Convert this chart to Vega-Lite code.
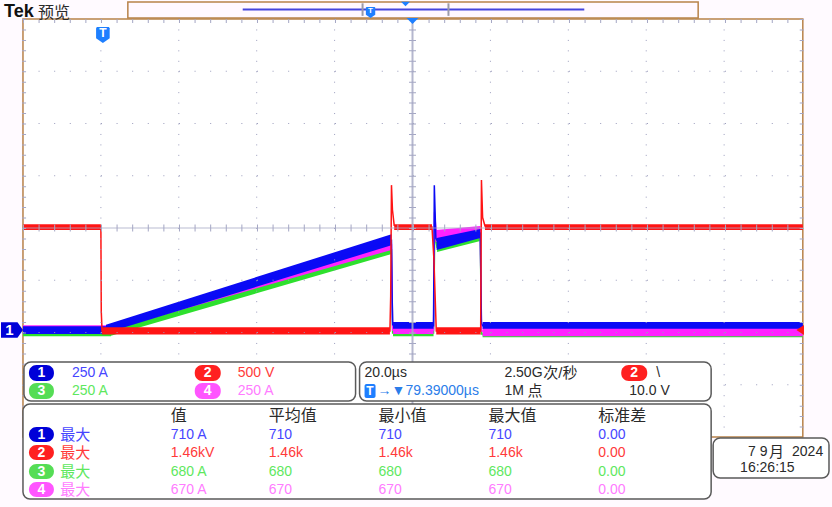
{
"$schema":"https://vega.github.io/schema/vega-lite/v6.json",
"width":832,"height":507,
"autosize":{"type":"fit","contains":"padding"},
"padding":0,
"background":"#FFFAFF",
"config":{"view":{"stroke":null}},
"data":{"values":[{}]},
"datasets":{
"traces":[
{"ch":"1","i":1,"t":-20,"v":-1.95},{"ch":"1","i":2,"t":1.3,"v":-1.95},{"ch":"1","i":3,"t":74.6,"v":-0.24},{"ch":"1","i":4,"t":74.75,"v":-1.2},{"ch":"1","i":5,"t":74.9,"v":-1.85},{"ch":"1","i":6,"t":85.4,"v":-1.87},{"ch":"1","i":7,"t":85.6,"v":0.82},{"ch":"1","i":8,"t":86.0,"v":-0.2},{"ch":"1","i":9,"t":87.0,"v":-0.31},{"ch":"1","i":10,"t":97.4,"v":-0.1},{"ch":"1","i":11,"t":97.7,"v":-1.82},{"ch":"1","i":12,"t":98.0,"v":-1.87},{"ch":"1","i":13,"t":180.2,"v":-1.87},
{"ch":"4","i":1,"t":-20,"v":-1.91},{"ch":"4","i":2,"t":1.6,"v":-1.91},{"ch":"4","i":3,"t":74.6,"v":-0.32},{"ch":"4","i":4,"t":74.9,"v":-1.95},{"ch":"4","i":5,"t":85.4,"v":-1.95},{"ch":"4","i":6,"t":85.65,"v":0.3},{"ch":"4","i":7,"t":86.1,"v":-0.1},{"ch":"4","i":8,"t":88,"v":-0.16},{"ch":"4","i":9,"t":97.4,"v":-0.03},{"ch":"4","i":10,"t":97.7,"v":-1.97},{"ch":"4","i":11,"t":180.2,"v":-1.99},
{"ch":"3","i":1,"t":-20,"v":-2.02},{"ch":"3","i":2,"t":2.6,"v":-2.02},{"ch":"3","i":3,"t":74.6,"v":-0.42},{"ch":"3","i":4,"t":74.9,"v":-2.01},{"ch":"3","i":5,"t":85.4,"v":-2.01},{"ch":"3","i":6,"t":85.7,"v":-0.1},{"ch":"3","i":7,"t":86.3,"v":-0.37},{"ch":"3","i":8,"t":97.4,"v":-0.18},{"ch":"3","i":9,"t":97.7,"v":-2.03},{"ch":"3","i":10,"t":180.2,"v":-2.03},
{"ch":"2","i":1,"t":-20,"v":0.02},{"ch":"2","i":2,"t":0,"v":0.02},{"ch":"2","i":3,"t":0.1,"v":-1.6},{"ch":"2","i":4,"t":0.3,"v":-1.97},{"ch":"2","i":5,"t":74.2,"v":-1.97},{"ch":"2","i":6,"t":74.4,"v":-1.3},{"ch":"2","i":7,"t":74.6,"v":0.82},{"ch":"2","i":8,"t":74.85,"v":0.35},{"ch":"2","i":9,"t":75.3,"v":0.05},{"ch":"2","i":10,"t":85.0,"v":0.02},{"ch":"2","i":11,"t":85.5,"v":-0.6},{"ch":"2","i":12,"t":86.1,"v":-1.97},{"ch":"2","i":13,"t":97.5,"v":-1.97},{"ch":"2","i":14,"t":97.7,"v":0.92},{"ch":"2","i":15,"t":98.0,"v":0.2},{"ch":"2","i":16,"t":98.6,"v":0.04},{"ch":"2","i":17,"t":180.2,"v":0.02}
],
"bands":[
{"ch":"1","seg":"a","t":-20,"lo":-2.03,"hi":-1.88},{"ch":"1","seg":"a","t":1.3,"lo":-2.03,"hi":-1.88},
{"ch":"1","seg":"b","t":1.3,"lo":-2.01,"hi":-1.85},{"ch":"1","seg":"b","t":74.6,"lo":-0.33,"hi":-0.12},
{"ch":"1","seg":"c","t":75.0,"lo":-1.93,"hi":-1.8},{"ch":"1","seg":"c","t":85.4,"lo":-1.93,"hi":-1.8},
{"ch":"1","seg":"d","t":86.2,"lo":-0.42,"hi":-0.19},{"ch":"1","seg":"d","t":97.4,"lo":-0.19,"hi":-0.02},
{"ch":"1","seg":"e","t":98.0,"lo":-1.93,"hi":-1.8},{"ch":"1","seg":"e","t":180.2,"lo":-1.93,"hi":-1.8},
{"ch":"4","seg":"a","t":-20,"lo":-1.96,"hi":-1.86},{"ch":"4","seg":"a","t":1.6,"lo":-1.96,"hi":-1.86},
{"ch":"4","seg":"b","t":1.6,"lo":-1.97,"hi":-1.87},{"ch":"4","seg":"b","t":74.6,"lo":-0.42,"hi":-0.22},
{"ch":"4","seg":"c","t":75.0,"lo":-2.03,"hi":-1.88},{"ch":"4","seg":"c","t":85.4,"lo":-2.03,"hi":-1.88},
{"ch":"4","seg":"d","t":85.9,"lo":-0.27,"hi":-0.04},{"ch":"4","seg":"d","t":97.4,"lo":-0.11,"hi":0.04},
{"ch":"4","seg":"e","t":98.0,"lo":-2.07,"hi":-1.91},{"ch":"4","seg":"e","t":180.2,"lo":-2.07,"hi":-1.91},
{"ch":"3","seg":"a","t":-20,"lo":-2.07,"hi":-1.97},{"ch":"3","seg":"a","t":2.6,"lo":-2.07,"hi":-1.97},
{"ch":"3","seg":"b","t":2.6,"lo":-2.06,"hi":-1.96},{"ch":"3","seg":"b","t":74.6,"lo":-0.5,"hi":-0.34},
{"ch":"3","seg":"c","t":75.0,"lo":-2.07,"hi":-1.95},{"ch":"3","seg":"c","t":85.4,"lo":-2.07,"hi":-1.95},
{"ch":"3","seg":"d","t":86.3,"lo":-0.46,"hi":-0.29},{"ch":"3","seg":"d","t":97.4,"lo":-0.25,"hi":-0.11},
{"ch":"3","seg":"e","t":98.0,"lo":-2.09,"hi":-1.97},{"ch":"3","seg":"e","t":180.2,"lo":-2.09,"hi":-1.97},
{"ch":"2","seg":"a","t":-20,"lo":-0.04,"hi":0.07},{"ch":"2","seg":"a","t":0,"lo":-0.04,"hi":0.07},
{"ch":"2","seg":"b","t":0.3,"lo":-2.04,"hi":-1.9},{"ch":"2","seg":"b","t":74.2,"lo":-2.04,"hi":-1.9},
{"ch":"2","seg":"c","t":75.3,"lo":-0.04,"hi":0.07},{"ch":"2","seg":"c","t":85.0,"lo":-0.04,"hi":0.07},
{"ch":"2","seg":"d","t":86.1,"lo":-2.04,"hi":-1.9},{"ch":"2","seg":"d","t":97.5,"lo":-2.04,"hi":-1.9},
{"ch":"2","seg":"e","t":98.6,"lo":-0.04,"hi":0.07},{"ch":"2","seg":"e","t":180.2,"lo":-0.04,"hi":0.07}
],
"panels":[
{"box":"channels","t":-19.744,"t2":65.385,"v":-2.5646,"v2":-3.311},
{"box":"timebase","t":66.41,"t2":156.667,"v":-2.5646,"v2":-3.311},
{"box":"measurements","t":-20,"t2":156.667,"v":-3.3684,"v2":-5.1866},
{"box":"date","t":157.18,"t2":186.92,"v":-4.0191,"v2":-4.7847}
],
"badges":[
{"c":"1","t":-18.462,"t2":-12.051,"v":-2.622,"v2":-2.928},
{"c":"2","t":24.103,"t2":30.769,"v":-2.622,"v2":-2.928},
{"c":"3","t":-18.462,"t2":-12.051,"v":-2.967,"v2":-3.273},
{"c":"4","t":24.103,"t2":30.769,"v":-2.967,"v2":-3.273},
{"c":"2","t":133.59,"t2":140.256,"v":-2.622,"v2":-2.928},
{"c":"1","t":-18.462,"t2":-12.051,"v":-3.81,"v2":-4.097},
{"c":"2","t":-18.462,"t2":-12.051,"v":-4.154,"v2":-4.441},
{"c":"3","t":-18.462,"t2":-12.051,"v":-4.518,"v2":-4.804},
{"c":"4","t":-18.462,"t2":-12.051,"v":-4.862,"v2":-5.149}
],
"badgeText":[
{"s":"1","t":-15.256,"v":-2.775},{"s":"2","t":27.436,"v":-2.775},{"s":"3","t":-15.256,"v":-3.12},{"s":"4","t":27.436,"v":-3.12},{"s":"2","t":136.923,"v":-2.775},
{"s":"1","t":-15.256,"v":-3.953},{"s":"2","t":-15.256,"v":-4.297},{"s":"3","t":-15.256,"v":-4.661},{"s":"4","t":-15.256,"v":-5.005}
],
"latin":[
{"s":"250 A","c":"1","t":-7.436,"v":-2.775},{"s":"500 V","c":"2","t":35.128,"v":-2.775},
{"s":"250 A","c":"3","t":-7.436,"v":-3.12},{"s":"250 A","c":"4","t":35.128,"v":-3.12},
{"s":"20.0µs","c":"k","t":67.692,"v":-2.775},{"s":"2.50G","c":"k","t":103.59,"v":-2.775},{"s":"\\","c":"k","t":142.564,"v":-2.775},
{"s":"→▼79.39000µs","c":"T","t":71.03,"v":-3.12},{"s":"1M","c":"k","t":103.59,"v":-3.12},{"s":"10.0 V","c":"k","t":135.641,"v":-3.12},
{"s":"710 A","c":"1","t":17.949,"v":-3.953},{"s":"710","c":"1","t":43.077,"v":-3.953},{"s":"710","c":"1","t":71.282,"v":-3.953},{"s":"710","c":"1","t":99.487,"v":-3.953},{"s":"0.00","c":"1","t":127.692,"v":-3.953},
{"s":"1.46kV","c":"2","t":17.949,"v":-4.297},{"s":"1.46k","c":"2","t":43.077,"v":-4.297},{"s":"1.46k","c":"2","t":71.282,"v":-4.297},{"s":"1.46k","c":"2","t":99.487,"v":-4.297},{"s":"0.00","c":"2","t":127.692,"v":-4.297},
{"s":"680 A","c":"3","t":17.949,"v":-4.661},{"s":"680","c":"3","t":43.077,"v":-4.661},{"s":"680","c":"3","t":71.282,"v":-4.661},{"s":"680","c":"3","t":99.487,"v":-4.661},{"s":"0.00","c":"3","t":127.692,"v":-4.661},
{"s":"670 A","c":"4","t":17.949,"v":-5.005},{"s":"670","c":"4","t":43.077,"v":-5.005},{"s":"670","c":"4","t":71.282,"v":-5.005},{"s":"670","c":"4","t":99.487,"v":-5.005},{"s":"0.00","c":"4","t":127.692,"v":-5.005},
{"s":"7 9","c":"k","t":166.154,"v":-4.28},{"s":"2024","c":"k","t":177.436,"v":-4.28},{"s":"16:26:15","c":"k","t":164.103,"v":-4.599}
],
"cjk":[
{"s":"预览","c":"k","t":-16.154,"v":4.115},
{"s":"值","c":"k","t":17.949,"v":-3.589},{"s":"平均值","c":"k","t":43.077,"v":-3.589},{"s":"最小值","c":"k","t":71.282,"v":-3.589},{"s":"最大值","c":"k","t":99.487,"v":-3.589},{"s":"标准差","c":"k","t":127.692,"v":-3.589}
],
"rowNames":[
{"s":"最大","c":"1","t":-10.436,"v":-3.953},{"s":"最大","c":"2","t":-10.436,"v":-4.297},{"s":"最大","c":"3","t":-10.436,"v":-4.661},{"s":"最大","c":"4","t":-10.436,"v":-5.005},
{"s":"次/秒","c":"k","t":113.59,"v":-2.775},{"s":"点","c":"k","t":109.5,"v":-3.12},{"s":"月","c":"k","t":171.538,"v":-4.28}
]
},
"layer":[
{"mark":{"type":"rect","fill":"#FFFFFF","stroke":"#B8824A","strokeWidth":1.5},
 "encoding":{"x":{"datum":-20,"type":"quantitative","scale":{"domain":[-25.641,187.692],"nice":false,"zero":false},"axis":null},"x2":{"datum":180.2},
 "y":{"datum":4,"type":"quantitative","scale":{"domain":[-5.3397,4.3636],"nice":false,"zero":false},"axis":null},"y2":{"datum":-4}}},
{"mark":{"type":"rect","fill":"#FFF8FF","stroke":"#B8824A","strokeWidth":1.5},
 "encoding":{"x":{"datum":6.923,"type":"quantitative"},"x2":{"datum":153.333},"y":{"datum":4.3254,"type":"quantitative"},"y2":{"datum":4.0191}}},

{"data":{"name":"bands"},"transform":[{"filter":"datum.ch == '3'"}],
 "mark":{"type":"area","color":"#2EE02E"},
 "encoding":{"x":{"field":"t","type":"quantitative"},"y":{"field":"lo","type":"quantitative"},"y2":{"field":"hi"},"detail":{"field":"seg","type":"nominal"}}},
{"data":{"name":"traces"},"transform":[{"filter":"datum.ch == '3'"}],
 "mark":{"type":"line","color":"#2EE02E","strokeWidth":1.5},
 "encoding":{"x":{"field":"t","type":"quantitative"},"y":{"field":"v","type":"quantitative"},"order":{"field":"i","type":"quantitative"}}},
{"data":{"name":"bands"},"transform":[{"filter":"datum.ch == '4'"}],
 "mark":{"type":"area","color":"#FF22FF"},
 "encoding":{"x":{"field":"t","type":"quantitative"},"y":{"field":"lo","type":"quantitative"},"y2":{"field":"hi"},"detail":{"field":"seg","type":"nominal"}}},
{"data":{"name":"traces"},"transform":[{"filter":"datum.ch == '4'"}],
 "mark":{"type":"line","color":"#FF22FF","strokeWidth":1.5},
 "encoding":{"x":{"field":"t","type":"quantitative"},"y":{"field":"v","type":"quantitative"},"order":{"field":"i","type":"quantitative"}}},
{"data":{"name":"bands"},"transform":[{"filter":"datum.ch == '1'"}],
 "mark":{"type":"area","color":"#0A0AF5"},
 "encoding":{"x":{"field":"t","type":"quantitative"},"y":{"field":"lo","type":"quantitative"},"y2":{"field":"hi"},"detail":{"field":"seg","type":"nominal"}}},
{"data":{"name":"traces"},"transform":[{"filter":"datum.ch == '1'"}],
 "mark":{"type":"line","color":"#0A0AF5","strokeWidth":1.5},
 "encoding":{"x":{"field":"t","type":"quantitative"},"y":{"field":"v","type":"quantitative"},"order":{"field":"i","type":"quantitative"}}},
{"data":{"name":"bands"},"transform":[{"filter":"datum.ch == '2'"}],
 "mark":{"type":"area","color":"#FF1414"},
 "encoding":{"x":{"field":"t","type":"quantitative"},"y":{"field":"lo","type":"quantitative"},"y2":{"field":"hi"},"detail":{"field":"seg","type":"nominal"}}},
{"data":{"name":"traces"},"transform":[{"filter":"datum.ch == '2'"}],
 "mark":{"type":"line","color":"#FF1414","strokeWidth":1.5},
 "encoding":{"x":{"field":"t","type":"quantitative"},"y":{"field":"v","type":"quantitative"},"order":{"field":"i","type":"quantitative"}}},

{"data":{"values":[{"t":0},{"t":20},{"t":40},{"t":60},{"t":80},{"t":100},{"t":120},{"t":140},{"t":160}]},
 "mark":{"type":"rule","stroke":"#9A9CBC","strokeWidth":1,"strokeDash":[1,9.45]},
 "encoding":{"x":{"field":"t","type":"quantitative"},"y":{"datum":4,"type":"quantitative"},"y2":{"datum":-4}}},
{"data":{"values":[{"v":3},{"v":2},{"v":1},{"v":-1},{"v":-2},{"v":-3}]},
 "mark":{"type":"rule","stroke":"#9A9CBC","strokeWidth":1,"strokeDash":[1,14.6]},
 "encoding":{"y":{"field":"v","type":"quantitative"},"x":{"datum":-20,"type":"quantitative"},"x2":{"datum":180.2}}},
{"mark":{"type":"rule","stroke":"#A4A6C4","strokeWidth":7,"strokeDash":[1,9.45]},
 "encoding":{"x":{"datum":80,"type":"quantitative"},"y":{"datum":4,"type":"quantitative"},"y2":{"datum":-4}}},
{"mark":{"type":"rule","stroke":"#A4A6C4","strokeWidth":7,"strokeDash":[1,14.6]},
 "encoding":{"y":{"datum":0,"type":"quantitative"},"x":{"datum":-20,"type":"quantitative"},"x2":{"datum":180.2}}},
{"mark":{"type":"rule","stroke":"#A4A6C4","strokeWidth":4,"strokeDash":[1,14.6]},
 "encoding":{"y":{"datum":3.96,"type":"quantitative"},"x":{"datum":-20,"type":"quantitative"},"x2":{"datum":180.2}}},
{"data":{"values":[{"t":-19.72},{"t":179.92}]},
 "mark":{"type":"rule","stroke":"#A4A6C4","strokeWidth":4,"strokeDash":[1,9.45]},
 "encoding":{"x":{"field":"t","type":"quantitative"},"y":{"datum":4,"type":"quantitative"},"y2":{"datum":-4}}},
{"mark":{"type":"rule","stroke":"#A8AAC6","strokeWidth":2,"opacity":0.85},
 "encoding":{"x":{"datum":80,"type":"quantitative"},"y":{"datum":4,"type":"quantitative"},"y2":{"datum":-4}}},
{"mark":{"type":"rule","stroke":"#A8AAC6","strokeWidth":1.2,"opacity":0.8},
 "encoding":{"y":{"datum":0,"type":"quantitative"},"x":{"datum":-20,"type":"quantitative"},"x2":{"datum":180.2}}},

{"mark":{"type":"point","filled":true,"opacity":1,"fill":"#0000D8","strokeWidth":0,"size":484,"shape":"M-1,-0.7 H0.5 L1,0 L0.5,0.7 H-1 Z"},
 "encoding":{"x":{"datum":-22.821,"type":"quantitative"},"y":{"datum":-1.952,"type":"quantitative"}}},
{"mark":{"type":"point","filled":true,"opacity":1,"fill":"#FF1414","strokeWidth":0,"size":100,"shape":"M1,-1 L-0.5,0 L1,1 Z"},
 "encoding":{"x":{"datum":179.2,"type":"quantitative"},"y":{"datum":-1.952,"type":"quantitative"}}},
{"mark":{"type":"point","filled":true,"opacity":1,"fill":"#1E7FFF","strokeWidth":0,"size":144,"shape":"M-1,-0.5 H1 L0,0.5 Z"},
 "encoding":{"x":{"datum":80,"type":"quantitative"},"y":{"datum":3.962,"type":"quantitative"}}},
{"mark":{"type":"point","filled":true,"opacity":1,"fill":"#1E7FFF","strokeWidth":0,"size":81,"shape":"M-1,-0.5 H1 L0,0.5 Z"},
 "encoding":{"x":{"datum":78.205,"type":"quantitative"},"y":{"datum":4.287,"type":"quantitative"}}},
{"mark":{"type":"rule","stroke":"#4444DD","strokeWidth":2},
 "encoding":{"x":{"datum":36.41,"type":"quantitative"},"x2":{"datum":124.1},"y":{"datum":4.182,"type":"quantitative"}}},
{"data":{"values":[{"t":67.18},{"t":89.23}]},
 "mark":{"type":"rule","stroke":"#9A9AAA","strokeWidth":2},
 "encoding":{"x":{"field":"t","type":"quantitative"},"y":{"datum":4.3,"type":"quantitative"},"y2":{"datum":4.06}}},
{"mark":{"type":"point","filled":true,"opacity":1,"fill":"#1E7FFF","strokeWidth":0,"size":256,"shape":"M-0.75,-1 H0.75 L0.85,-0.85 V0.4 L0,1 L-0.85,0.4 V-0.85 Z"},
 "encoding":{"x":{"datum":0.513,"type":"quantitative"},"y":{"datum":3.694,"type":"quantitative"}}},
{"mark":{"type":"point","filled":true,"opacity":1,"fill":"#1E7FFF","strokeWidth":0,"size":121,"shape":"M-0.75,-1 H0.75 L0.85,-0.85 V0.4 L0,1 L-0.85,0.4 V-0.85 Z"},
 "encoding":{"x":{"datum":69.231,"type":"quantitative"},"y":{"datum":4.124,"type":"quantitative"}}},
{"mark":{"type":"text","text":"T","font":"Liberation Sans","fontWeight":"bold","fontSize":12,"fill":"#FFFFFF","align":"center","baseline":"middle"},
 "encoding":{"x":{"datum":0.513,"type":"quantitative"},"y":{"datum":3.73,"type":"quantitative"}}},
{"mark":{"type":"text","text":"T","font":"Liberation Sans","fontWeight":"bold","fontSize":8,"fill":"#FFFFFF","align":"center","baseline":"middle"},
 "encoding":{"x":{"datum":69.231,"type":"quantitative"},"y":{"datum":4.145,"type":"quantitative"}}},
{"mark":{"type":"text","text":"1","font":"Liberation Sans","fontWeight":"bold","fontSize":15,"fill":"#FFFFFF","align":"center","baseline":"middle"},
 "encoding":{"x":{"datum":-23.5,"type":"quantitative"},"y":{"datum":-1.952,"type":"quantitative"}}},

{"data":{"name":"panels"},
 "mark":{"type":"rect","fill":"#FFFFFF","stroke":"#5A5A5A","strokeWidth":1.5,"cornerRadius":7},
 "encoding":{"x":{"field":"t","type":"quantitative"},"x2":{"field":"t2"},"y":{"field":"v","type":"quantitative"},"y2":{"field":"v2"}}},
{"data":{"name":"badges"},
 "mark":{"type":"rect","cornerRadius":7.5},
 "encoding":{"x":{"field":"t","type":"quantitative"},"x2":{"field":"t2"},"y":{"field":"v","type":"quantitative"},"y2":{"field":"v2"},
 "fill":{"field":"c","type":"nominal","legend":null,"scale":{"domain":["1","2","3","4"],"range":["#0000D8","#FF2020","#55DD55","#FF55FF"]}}}},
{"mark":{"type":"rect","cornerRadius":2,"fill":"#1E7FFF"},
 "encoding":{"x":{"datum":67.692,"type":"quantitative"},"x2":{"datum":70.513},"y":{"datum":-2.986,"type":"quantitative"},"y2":{"datum":-3.254}}},
{"mark":{"type":"text","text":"T","font":"Liberation Sans","fontWeight":"bold","fontSize":12,"fill":"#FFFFFF","align":"center","baseline":"middle"},
 "encoding":{"x":{"datum":69.1,"type":"quantitative"},"y":{"datum":-3.12,"type":"quantitative"}}},
{"data":{"name":"badgeText"},
 "mark":{"type":"text","font":"Liberation Sans","fontWeight":"bold","fontSize":14,"fill":"#FFFFFF","align":"center","baseline":"middle"},
 "encoding":{"x":{"field":"t","type":"quantitative"},"y":{"field":"v","type":"quantitative"},"text":{"field":"s","type":"nominal"}}},
{"data":{"name":"latin"},
 "mark":{"type":"text","font":"Liberation Sans","fontSize":14,"align":"left","baseline":"middle"},
 "encoding":{"x":{"field":"t","type":"quantitative"},"y":{"field":"v","type":"quantitative"},"text":{"field":"s","type":"nominal"},
 "color":{"field":"c","type":"nominal","legend":null,"scale":{"domain":["1","2","3","4","k","T"],"range":["#4646FF","#FF3A3A","#5EE85E","#FF7CFF","#2A2A2A","#2B7DE9"]}}}},
{"data":{"name":"cjk"},
 "mark":{"type":"text","font":"Noto Sans CJK SC","fontSize":16,"align":"left","baseline":"middle"},
 "encoding":{"x":{"field":"t","type":"quantitative"},"y":{"field":"v","type":"quantitative"},"text":{"field":"s","type":"nominal"},
 "color":{"field":"c","type":"nominal","legend":null,"scale":{"domain":["1","2","3","4","k","T"],"range":["#4646FF","#FF3A3A","#5EE85E","#FF7CFF","#2A2A2A","#2B7DE9"]}}}},
{"data":{"name":"rowNames"},
 "mark":{"type":"text","font":"Liberation Sans, Noto Sans CJK SC","fontSize":15,"align":"left","baseline":"middle"},
 "encoding":{"x":{"field":"t","type":"quantitative"},"y":{"field":"v","type":"quantitative"},"text":{"field":"s","type":"nominal"},
 "color":{"field":"c","type":"nominal","legend":null,"scale":{"domain":["1","2","3","4","k","T"],"range":["#4646FF","#FF3A3A","#5EE85E","#FF7CFF","#2A2A2A","#2B7DE9"]}}}},
{"mark":{"type":"text","text":"Tek","font":"Liberation Sans","fontWeight":"bold","fontSize":18,"fill":"#111111","align":"left","baseline":"middle"},
 "encoding":{"x":{"datum":-24.872,"type":"quantitative"},"y":{"datum":4.134,"type":"quantitative"}}}
]
}
